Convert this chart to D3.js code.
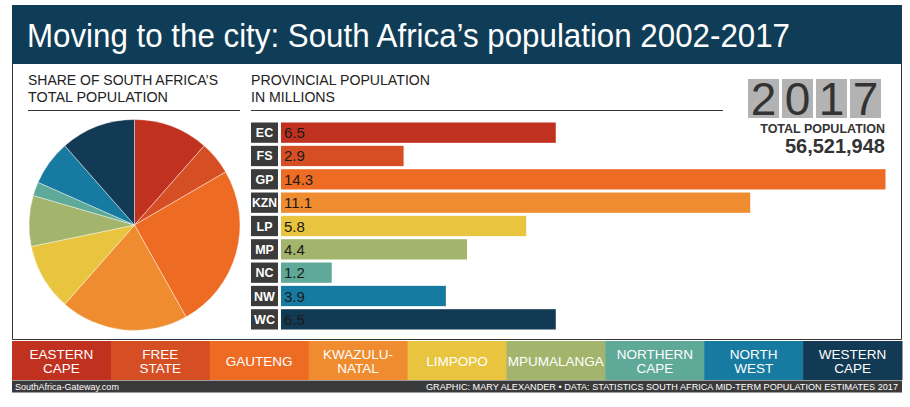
<!DOCTYPE html>
<html><head><meta charset="utf-8">
<script src="https://cdn.jsdelivr.net/npm/d3@7"></script>
<style>body{margin:0;background:#fff;} svg{display:block;font-family:"Liberation Sans",Arial,sans-serif;}</style>
</head><body>
<svg id="c" width="910" height="407"></svg>
<script>
const codes = ["EC","FS","GP","KZN","LP","MP","NC","NW","WC"];
const names = [["EASTERN","CAPE"],["FREE","STATE"],["GAUTENG"],["KWAZULU-","NATAL"],["LIMPOPO"],["MPUMALANGA"],["NORTHERN","CAPE"],["NORTH","WEST"],["WESTERN","CAPE"]];
const population = [6.5, 2.9, 14.3, 11.1, 5.8, 4.4, 1.2, 3.9, 6.5];
const colors = ["#c1311f","#d64e24","#ee6b23","#ef8c2f","#e9c43f","#a3b56c","#5ea997","#177aa0","#123a55"];
const year = "2017";
const totalPop = "56,521,948";

const svg = d3.select("#c");
const navy = "#0f3c56";

// title banner
svg.append("rect").attr("x",12).attr("y",5).attr("width",890).attr("height",59).attr("fill",navy);
svg.append("text").attr("x",27).attr("y",47).attr("fill","#fff").attr("font-size",34)
  .attr("textLength",763).attr("lengthAdjust","spacingAndGlyphs")
  .text("Moving to the city: South Africa\u2019s population 2002-2017");

// frame
svg.append("path").attr("d","M12.5,64 V339.5 H901.5 V64").attr("fill","none").attr("stroke","#333").attr("stroke-width",1);

// headers
function header(x, lines, widths, lineEnd){
  lines.forEach((l,i)=>{
    svg.append("text").attr("x",x).attr("y",85+i*17).attr("font-size",14).attr("fill","#222")
      .attr("textLength",widths[i]).attr("lengthAdjust","spacingAndGlyphs").text(l);
  });
  svg.append("line").attr("x1",x).attr("x2",lineEnd).attr("y1",110.5).attr("y2",110.5).attr("stroke","#333");
}
header(28,["SHARE OF SOUTH AFRICA\u2019S","TOTAL POPULATION"],[190,140],240);
header(251,["PROVINCIAL POPULATION","IN MILLIONS"],[179,84],723);

// pie
const pie = d3.pie().sort(null).value(d=>d)(population);
const arc = d3.arc().innerRadius(0).outerRadius(105.5);
svg.append("g").attr("transform","translate(134.5,225)")
  .selectAll("path").data(pie).join("path")
  .attr("d",arc).attr("fill",(d,i)=>colors[i]).attr("stroke","#fff").attr("stroke-width",0.6).attr("stroke-opacity",0.7);

// bars
const x = d3.scaleLinear().domain([0,14.3]).range([281,885.5]);
const y = d3.scaleBand().domain(codes).range([122.5,329.5]).paddingInner(0.13).paddingOuter(0);
const rows = svg.append("g").selectAll("g").data(codes).join("g");
rows.append("rect").attr("x",251).attr("y",d=>y(d)).attr("width",27).attr("height",y.bandwidth()).attr("fill","#3b3b3b");
rows.append("text").attr("x",264.5).attr("y",d=>y(d)+y.bandwidth()/2+4.5).attr("text-anchor","middle")
  .attr("font-size",12.5).attr("font-weight","bold").attr("fill","#fff")
  .attr("textLength",d=>d.length>2?25:null).attr("lengthAdjust","spacingAndGlyphs").text(d=>d);
rows.append("rect").attr("x",x(0)).attr("y",d=>y(d)).attr("width",(d,i)=>x(population[i])-x(0)).attr("height",y.bandwidth()).attr("fill",(d,i)=>colors[i]);
rows.append("text").attr("x",x(0)+3).attr("y",d=>y(d)+y.bandwidth()/2+5.5).attr("font-size",15).attr("fill","#1b1b1b")
  .text((d,i)=>d3.format(".1f")(population[i]));

// year boxes
const yearG = svg.append("g");
year.split("").forEach((ch,i)=>{
  yearG.append("rect").attr("x",748+i*34).attr("y",79).attr("width",31).attr("height",39).attr("fill","#b3b3b3");
  yearG.append("text").attr("x",748+i*34+15.5).attr("y",115).attr("text-anchor","middle").attr("font-size",46).attr("fill","#333").text(ch);
});
svg.append("text").attr("x",885).attr("y",133).attr("text-anchor","end").attr("font-size",12.5).attr("font-weight","bold").attr("fill","#333").text("TOTAL POPULATION");
svg.append("text").attr("x",885).attr("y",152.5).attr("text-anchor","end").attr("font-size",20).attr("font-weight","bold").attr("fill","#333").text(totalPop);

// legend
const lx = d3.scaleBand().domain(codes).range([12,902]);
const leg = svg.append("g").selectAll("g").data(codes).join("g");
leg.append("rect").attr("x",d=>lx(d)).attr("y",341).attr("width",lx.bandwidth()+0.5).attr("height",39).attr("fill",(d,i)=>colors[i]);
leg.each(function(d,i){
  const g = d3.select(this);
  const ls = names[i];
  ls.forEach((t,j)=>{
    const yy = ls.length===1 ? 366 : 359+j*14;
    g.append("text").attr("x",lx(d)+lx.bandwidth()/2).attr("y",yy).attr("text-anchor","middle")
      .attr("font-size",13.5).attr("fill","#fff").text(t);
  });
});

// footer
svg.append("rect").attr("x",12).attr("y",380.5).attr("width",890).attr("height",12).attr("fill","#3a3a3a");
svg.append("text").attr("x",15).attr("y",389.5).attr("font-size",9).attr("fill","#fff").text("SouthAfrica-Gateway.com");
svg.append("text").attr("x",898).attr("y",389.5).attr("text-anchor","end").attr("font-size",9).attr("fill","#fff")
  .attr("textLength",472).attr("lengthAdjust","spacingAndGlyphs")
  .text("GRAPHIC: MARY ALEXANDER \u2022 DATA: STATISTICS SOUTH AFRICA MID-TERM POPULATION ESTIMATES 2017");
</script>
</body></html>
